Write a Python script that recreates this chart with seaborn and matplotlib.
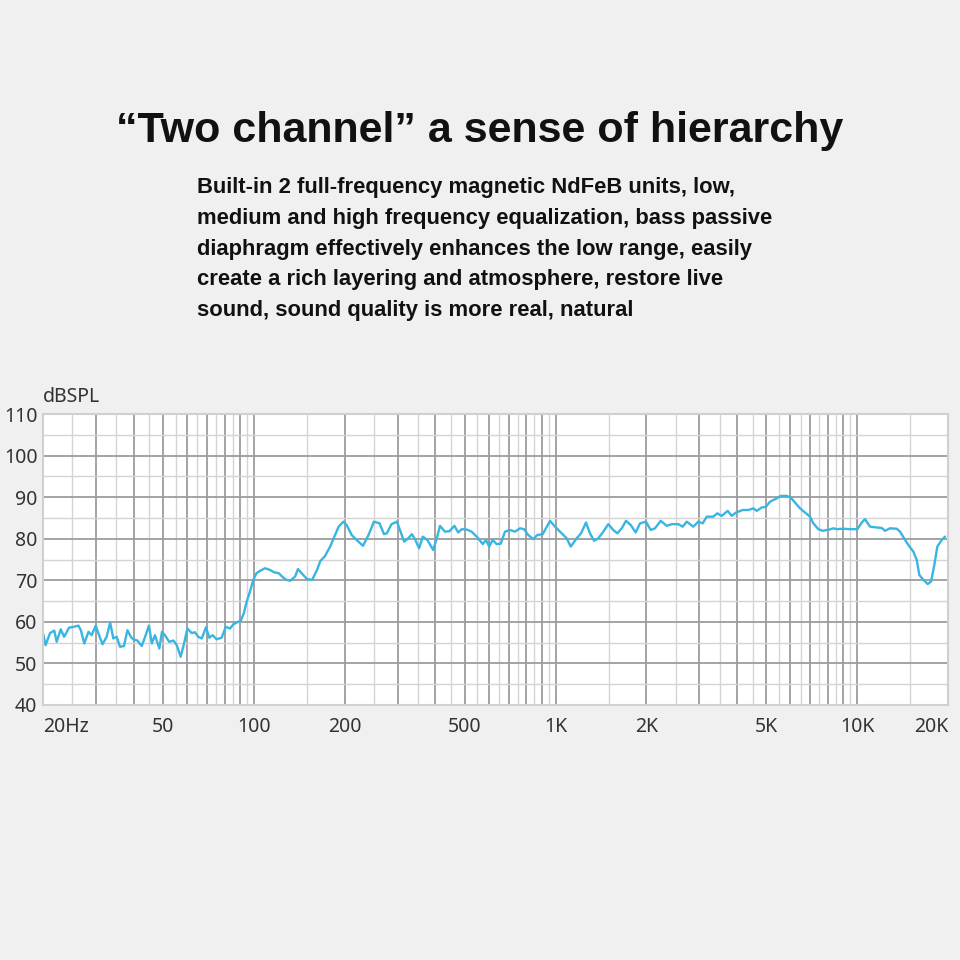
import numpy as np
import pandas as pd
import matplotlib.pyplot as plt
import seaborn as sns
from matplotlib.ticker import FixedLocator, NullFormatter

# 주파수 응답 데이터
freq = [20.0, 20.4, 21.1, 21.8, 22.2, 22.9, 23.5, 24.4, 25.3, 26.2,
        26.7, 27.4, 28.3, 29.0, 29.9, 30.5, 31.5, 32.5, 33.4, 34.2,
        35.1, 36.0, 37.1, 38.1, 39.1, 39.8, 41.1, 42.5, 43.6, 44.9,
        45.9, 47.0, 48.6, 49.6, 50.7, 52.4, 54.1, 55.5, 57.2, 58.7,
        60.2, 62.2, 63.8, 65.4, 67.2, 69.4, 71.2, 73.0, 75.3, 78.2,
        80.7, 83.4, 85.5, 88.1, 90.5, 92.7, 94.7, 97.1, 99.6, 102,
        105, 109, 113, 117, 121, 124, 128, 132, 137, 140,
        144, 150, 156, 162, 166, 172, 179, 186, 191, 198,
        203, 211, 219, 230, 240, 250, 261, 270, 276, 286,
        298, 305, 315, 325, 334, 342, 353, 363, 376, 393,
        404, 414, 430, 445, 462, 476, 489, 508, 527, 548,
        574, 588, 603, 619, 638, 658, 680, 707, 734, 763,
        786, 812, 844, 870, 907, 959, 996, 1035, 1089, 1123,
        1175, 1215, 1262, 1301, 1342, 1386, 1440, 1496, 1554, 1603,
        1657, 1713, 1775, 1844, 1906, 1995, 2068, 2137, 2232, 2337,
        2428, 2553, 2640, 2722, 2863, 2974, 3076, 3171, 3334, 3438,
        3556, 3722, 3838, 3966, 4173, 4356, 4525, 4644, 4825, 4986,
        5141, 5410, 5579, 5840, 6021, 6222, 6464, 6715, 6976, 7155,
        7433, 7686, 8083, 8335, 8553, 8975, 9468, 10010, 10352, 10615,
        11029, 11607, 12059, 12366, 12847, 13522, 13869, 14298, 14776, 15351,
        15754, 16069, 16568, 17135, 17570, 17979, 18436, 19067, 19551]

spl = [57.3, 54.4, 57.3, 57.9, 55.2, 58.2, 56.4, 58.6, 58.8, 59.1,
       58.0, 54.8, 57.6, 56.8, 59.1, 57.3, 54.6, 56.4, 59.8, 56.0,
       56.4, 54.0, 54.2, 58.0, 56.4, 55.8, 55.5, 54.2, 56.4, 59.1,
       54.8, 56.8, 53.6, 57.6, 56.8, 55.2, 55.5, 54.4, 51.6, 54.8,
       58.4, 57.3, 57.5, 56.4, 56.0, 58.7, 56.2, 56.8, 55.8, 56.2,
       58.8, 58.4, 59.4, 59.9, 60.3, 62.1, 64.9, 67.3, 70.1, 71.7,
       72.3, 72.9, 72.5, 71.9, 71.7, 70.9, 70.1, 69.9, 70.9, 72.7,
       71.7, 70.3, 70.1, 72.5, 74.6, 75.8, 78.1, 80.9, 82.9, 84.1,
       83.3, 80.9, 79.7, 78.3, 80.9, 84.1, 83.7, 81.1, 81.3, 83.5,
       84.1, 82.1, 79.3, 80.1, 81.1, 79.9, 77.7, 80.5, 79.7, 77.3,
       80.1, 83.1, 81.7, 81.8, 83.1, 81.5, 82.3, 82.2, 81.7, 80.5,
       78.7, 79.7, 78.1, 79.7, 78.7, 78.8, 81.7, 82.1, 81.7, 82.5,
       82.3, 80.9, 79.9, 80.9, 81.1, 84.3, 82.9, 81.7, 80.1, 78.1,
       80.1, 81.3, 83.9, 81.3, 79.5, 80.1, 81.7, 83.5, 82.1, 81.3,
       82.5, 84.3, 83.3, 81.5, 83.7, 84.1, 82.1, 82.5, 84.3, 83.1,
       83.5, 83.5, 82.9, 84.1, 82.9, 84.1, 83.7, 85.3, 85.3, 86.1,
       85.5, 86.7, 85.5, 86.3, 86.9, 86.9, 87.3, 86.7, 87.5, 87.7,
       88.9, 89.7, 90.3, 90.3, 89.9, 88.7, 87.3, 86.3, 85.3, 83.7,
       82.3, 81.9, 82.2, 82.5, 82.3, 82.4, 82.3, 82.3, 83.9, 84.7,
       82.9, 82.7, 82.6, 81.9, 82.5, 82.4, 81.7, 80.1, 78.5, 76.9,
       74.9, 71.3, 70.1, 69.1, 69.7, 73.3, 78.1, 79.7, 80.5]

# 눈금 / 그리드
major_x = [20, 30, 40, 50, 60, 70, 80, 90,
           100, 200, 300, 400, 500, 600, 700, 800, 900,
           1000, 2000, 3000, 4000, 5000, 6000, 7000, 8000, 9000,
           10000, 20000]
minor_x = [25, 35, 45, 55, 65, 75, 85, 95,
           150, 250, 350, 450, 550, 650, 750, 850, 950,
           1500, 2500, 3500, 4500, 5500, 6500, 7500, 8500, 9500,
           15000]
x_names = {20: '20Hz', 50: '50', 100: '100', 200: '200', 500: '500',
           1000: '1K', 2000: '2K', 5000: '5K', 10000: '10K', 20000: '20K'}
major_y = [40, 50, 60, 70, 80, 90, 100, 110]
minor_y = [45, 55, 65, 75, 85, 95, 105]

title = '\u201cTwo channel\u201d a sense of hierarchy'
body_lines = ['Built-in 2 full-frequency magnetic NdFeB units, low,',
              'medium and high frequency equalization, bass passive',
              'diaphragm effectively enhances the low range, easily',
              'create a rich layering and atmosphere, restore live',
              'sound, sound quality is more real, natural']

sns.set_theme(style='white')
plt.rcParams['font.family'] = ['Noto Sans', 'DejaVu Sans']

fig = plt.figure(figsize=(9.6, 9.6), dpi=100, facecolor='#f0f0f0')
ax = fig.add_axes([43 / 960, 255 / 960, 905 / 960, 291 / 960])
ax.set_facecolor('white')

df = pd.DataFrame({'freq': freq, 'spl': spl})
sns.lineplot(data=df, x='freq', y='spl', ax=ax, color='#38b5e2', linewidth=1.7)

ax.set_xscale('log')
ax.set_xlim(20, 20000)
ax.set_ylim(40, 110)
ax.set_xlabel('')
ax.set_ylabel('')

ax.xaxis.set_major_locator(FixedLocator(major_x))
ax.xaxis.set_minor_locator(FixedLocator(minor_x))
ax.xaxis.set_minor_formatter(NullFormatter())
ax.set_xticklabels([x_names.get(v, '') for v in major_x])
ax.yaxis.set_major_locator(FixedLocator(major_y))
ax.yaxis.set_minor_locator(FixedLocator(minor_y))
ax.yaxis.set_minor_formatter(NullFormatter())
ax.set_yticklabels([str(v) for v in major_y])

ax.grid(which='major', color='#9c9c9c', linewidth=1.3)
ax.grid(which='minor', color='#d4d4d4', linewidth=1.0)
ax.set_axisbelow(True)
ax.tick_params(which='both', length=0)
ax.tick_params(axis='x', pad=9, labelsize=14, labelcolor='#333333')
ax.tick_params(axis='y', pad=4, labelsize=14, labelcolor='#333333')

xl = ax.get_xticklabels()
xl[0].set_horizontalalignment('left')
xl[-1].set_horizontalalignment('right')

for s in ax.spines.values():
    s.set_visible(True)
    s.set_color('#d0d0d0')
    s.set_linewidth(1.5)

fig.text(43 / 960, 1 - 397 / 960, 'dBSPL', fontsize=14, color='#333333',
         ha='left', va='center')

bold_font = ['Liberation Sans', 'DejaVu Sans']
fig.text(0.5, 1 - 131 / 960, title, fontsize=31, fontweight='bold',
         family=bold_font, color='#111111', ha='center', va='center')

for i, line in enumerate(body_lines):
    fig.text(197 / 960, 1 - (188 + i * 30.5) / 960, line, fontsize=15.8,
             fontweight='bold', family=bold_font, color='#111111',
             ha='left', va='center')

fig.savefig('out.png', dpi=100, facecolor=fig.get_facecolor())
